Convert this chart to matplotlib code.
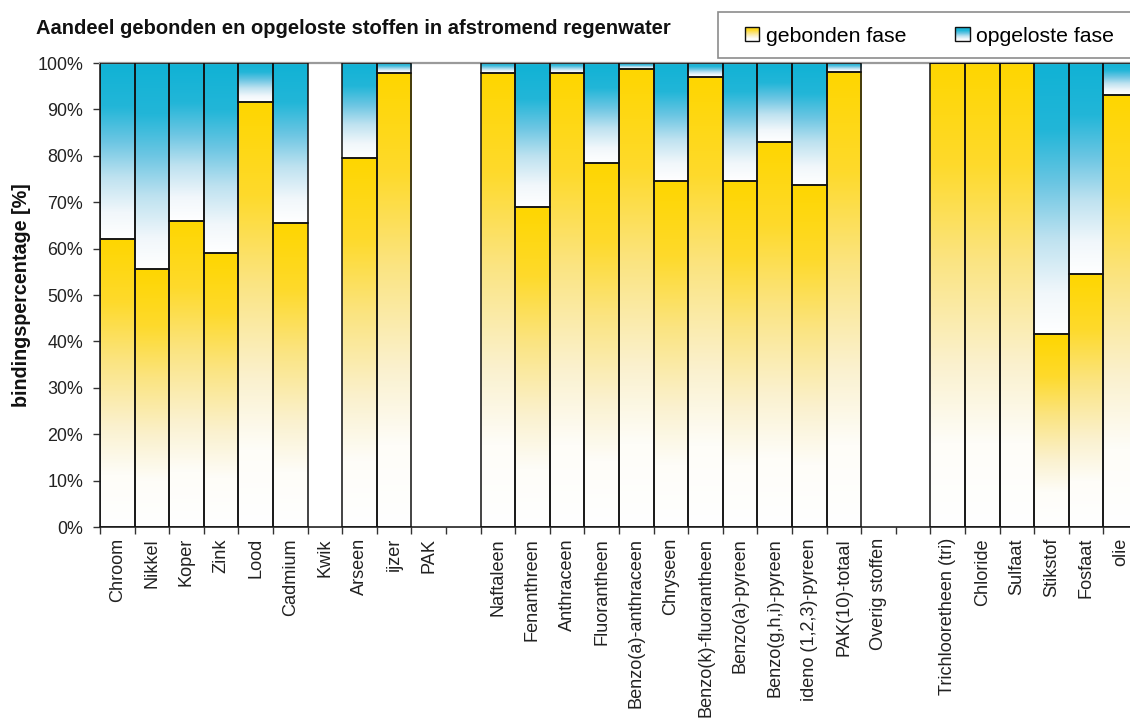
import numpy as np
import matplotlib
matplotlib.use("Agg")
import matplotlib.pyplot as plt
from matplotlib.colors import LinearSegmentedColormap
from matplotlib.patches import Rectangle
from matplotlib.legend_handler import HandlerBase

# --- data -------------------------------------------------------------------
categories = [
    "Chroom", "Nikkel", "Koper", "Zink", "Lood", "Cadmium", "Kwik", "Arseen",
    "ijzer", "PAK", "", "Naftaleen", "Fenanthreen", "Anthraceen",
    "Fluorantheen", "Benzo(a)-anthraceen", "Chryseen", "Benzo(k)-fluorantheen",
    "Benzo(a)-pyreen", "Benzo(g,h,i)-pyreen", "ideno (1,2,3)-pyreen",
    "PAK(10)-totaal", "Overig stoffen", "", "Trichlooretheen (tri)",
    "Chloride", "Sulfaat", "Stikstof", "Fosfaat", "olie",
]
# bound fraction (%) per substance; nan = no data
gebonden = np.array([
    62.0, 55.5, 66.0, 59.0, 91.5, 65.5, np.nan, 79.5,
    97.8, np.nan, np.nan, 97.8, 69.0, 97.8,
    78.5, 98.8, 74.5, 97.0,
    74.5, 83.0, 73.8,
    98.0, np.nan, np.nan, 100.0,
    100.0, 100.0, 41.5, 54.5, 93.0,
])
opgelost = 100.0 - gebonden

yticks = np.arange(0, 101, 10)
series_labels = ["gebonden fase", "opgeloste fase"]

# --- style ------------------------------------------------------------------
plt.rcParams["font.family"] = ["Liberation Sans", "DejaVu Sans"]

geel = LinearSegmentedColormap.from_list("geel", [
    (0.00, "#FFFFFF"), (0.18, "#FEFDF8"), (0.35, "#FAF1CE"),
    (0.58, "#FBE480"), (0.78, "#FEDA2C"), (1.00, "#FFD600"),
])
blauw = LinearSegmentedColormap.from_list("blauw", [
    (0.00, "#FFFFFF"), (0.15, "#F1F7FB"), (0.35, "#BEE2F0"),
    (0.55, "#6CC6E3"), (0.75, "#22B6D8"), (1.00, "#10B2D5"),
])

W, H = 1130, 719
fig = plt.figure(figsize=(W / 100, H / 100), dpi=100)
ax = fig.add_axes([100 / W, 1 - 527 / H, 1038 / W, 464 / H])

x = np.arange(len(categories))
ramp = np.linspace(0, 1, 256).reshape(-1, 1)


def gradient_bars(heights, bottoms, cmap):
    valid = ~np.isnan(heights)
    bars = ax.bar(x[valid], heights[valid], bottom=bottoms[valid], width=1.0,
                  facecolor="none", edgecolor="#111111", linewidth=1.1,
                  zorder=3)
    for b in bars:
        x0, y0 = b.get_x(), b.get_y()
        ax.imshow(ramp, cmap=cmap, origin="lower", aspect="auto",
                  interpolation="bilinear", zorder=1,
                  extent=(x0, x0 + b.get_width(), y0, y0 + b.get_height()))
    return bars


gradient_bars(gebonden, np.zeros_like(gebonden), geel)
gradient_bars(opgelost, gebonden, blauw)

ax.set_xlim(-0.5, len(categories) - 0.5)
ax.set_ylim(0, 100)

ax.set_yticks(yticks)
ax.set_yticklabels([f"{v}%" for v in yticks], fontsize=12.9, color="#222222")
ax.tick_params(axis="y", direction="out", length=5, width=1, pad=7,
               color="#333333")

ax.set_xticks(x)
ax.set_xticklabels(categories, rotation=90, fontsize=13.1, color="#222222",
                   va="top", ha="center")
ax.tick_params(axis="x", which="major", length=0, pad=8)
ax.set_xticks(np.arange(len(categories) + 1) - 0.5, minor=True)
ax.tick_params(axis="x", which="minor", direction="out", length=5, width=1,
               color="#333333")

ax.set_ylabel("bindingspercentage [%]", fontsize=14.2, fontweight="bold",
              labelpad=5, color="#111111")

for s in ("left", "bottom"):
    ax.spines[s].set_color("#222222")
    ax.spines[s].set_linewidth(1.2)
ax.spines["top"].set_color("#9A9A9A")
ax.spines["top"].set_linewidth(1.6)
ax.spines["right"].set_visible(False)

fig.text(36 / W, 1 - 34 / H,
         "Aandeel gebonden en opgeloste stoffen in afstromend regenwater",
         fontsize=14.5, fontweight="bold", color="#111111", va="baseline",
         ha="left")


# --- legend with gradient swatches -----------------------------------------
class GradientHandler(HandlerBase):
    def __init__(self, cmap, n=14):
        super().__init__()
        self.cmap = cmap
        self.n = n

    def create_artists(self, legend, orig_handle, xdescent, ydescent, width,
                       height, fontsize, trans):
        x0, y0 = -xdescent, -ydescent
        arts = []
        for k in range(self.n):
            arts.append(Rectangle((x0, y0 + k * height / self.n), width,
                                  height / self.n,
                                  facecolor=self.cmap((k + 0.5) / self.n),
                                  edgecolor="none", transform=trans))
        arts.append(Rectangle((x0, y0), width, height, fill=False,
                              edgecolor="#111111", linewidth=1.0,
                              transform=trans))
        return arts


frame = Rectangle((718 / W, 1 - 58 / H), 0.5, 46 / H, transform=fig.transFigure,
                  facecolor="white", edgecolor="#8C8C8C", linewidth=1.2,
                  zorder=0)
fig.add_artist(frame)

h_geel = Rectangle((0, 0), 1, 1)
h_blauw = Rectangle((0, 0), 1, 1)
fig.legend([h_geel, h_blauw], series_labels,
           handler_map={h_geel: GradientHandler(geel),
                        h_blauw: GradientHandler(blauw)},
           loc="center left", bbox_to_anchor=(745 / W, 1 - 36 / H),
           bbox_transform=fig.transFigure, ncol=2, frameon=False,
           fontsize=15.3, handlelength=0.68, handleheight=0.68,
           handletextpad=0.3, columnspacing=2.3, borderpad=0,
           borderaxespad=0)

fig.savefig("out.png", dpi=100)
